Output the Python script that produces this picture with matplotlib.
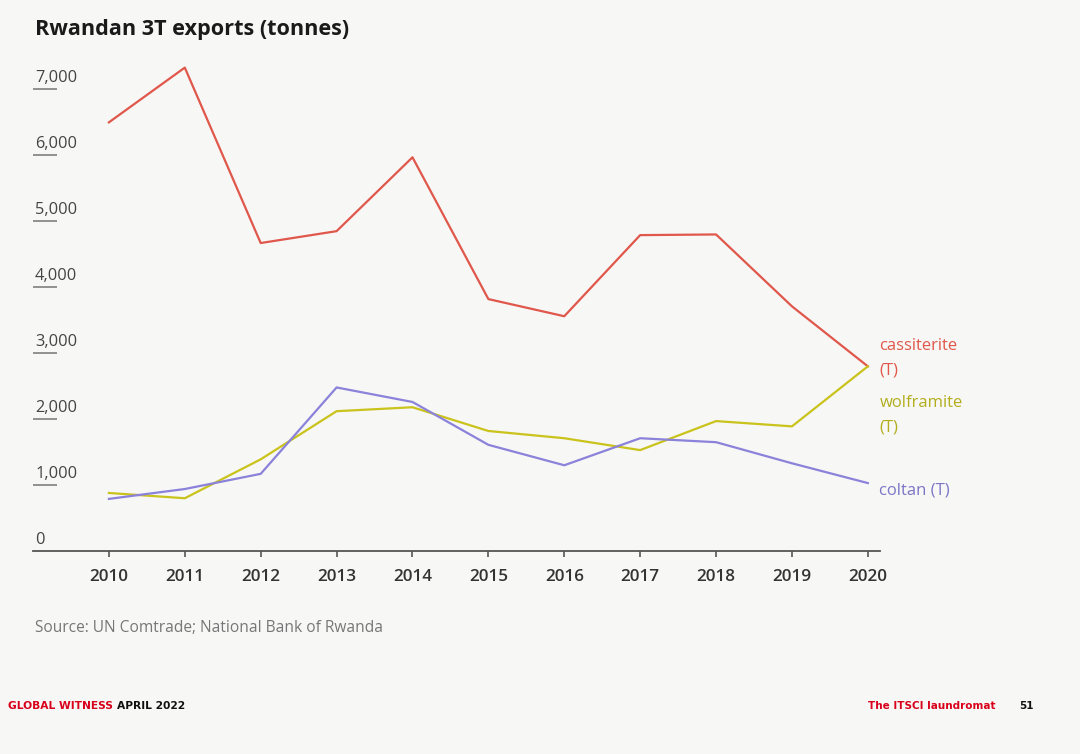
import matplotlib.pyplot as plt
from matplotlib.transforms import offset_copy

years = [2010, 2011, 2012, 2013, 2014, 2015, 2016, 2017, 2018, 2019, 2020]
cassiterite = [6500, 7330, 4670, 4850, 5970, 3820, 3560, 4790, 4800, 3710, 2800]
wolframite = [880, 800, 1390, 2120, 2180, 1820, 1710, 1530, 1970, 1890, 2800]
coltan = [790, 940, 1170, 2480, 2260, 1610, 1300, 1710, 1650, 1330, 1030]

y_ticks = [0, 1000, 2000, 3000, 4000, 5000, 6000, 7000]
y_labels = ['0', '1,000', '2,000', '3,000', '4,000', '5,000', '6,000', '7,000']

BG = '#f7f7f6'
RED = '#e0574b'
YELLOW = '#c9c31c'
BLUE = '#8b82da'

plt.rcParams['font.family'] = ['Open Sans', 'DejaVu Sans']

fig = plt.figure(figsize=(10.8, 7.54), dpi=100, facecolor=BG)
ax = fig.add_axes([33 / 1080, 1 - 551 / 754, (880 - 33) / 1080, (551 - 63) / 754])
ax.set_facecolor(BG)

ax.plot(years, cassiterite, color=RED, lw=1.6)
ax.plot(years, wolframite, color=YELLOW, lw=1.6)
ax.plot(years, coltan, color=BLUE, lw=1.6)

ax.set_xlim(2009.0, 2020.16)
ax.set_ylim(0, 7400)

for s in ['top', 'right', 'left']:
    ax.spines[s].set_visible(False)
ax.spines['bottom'].set_color('#555555')
ax.spines['bottom'].set_linewidth(1.3)

ax.set_xticks(years)
ax.set_xticklabels([str(y) for y in years], fontsize=12.3, color='#333333',
                   fontweight='semibold')
ax.tick_params(axis='x', length=4, width=1.2, color='#555555', pad=9)

# short underlines on the left, labels sit above them
ax.set_yticks(y_ticks[1:])
ax.set_yticklabels([])
ax.tick_params(axis='y', direction='in', length=17, width=1.2, color='#808080')
ytrans = offset_copy(ax.get_yaxis_transform(), fig=fig, x=1.5, y=2.5, units='points')
for v, lab in zip(y_ticks, y_labels):
    ax.text(0.0, v, lab, transform=ytrans, ha='left', va='bottom',
            fontsize=11.8, color='#444444')

# series end labels
lbl_trans = offset_copy(ax.transData, fig=fig, x=-0.5, y=0, units='points')
ax.text(2020.16, 2917, 'cassiterite\n(T)', color=RED, fontsize=12, va='center',
        ha='left', linespacing=1.7, transform=lbl_trans)
ax.text(2020.16, 2060, 'wolframite\n(T)', color='#b3ae1e', fontsize=12, va='center',
        ha='left', linespacing=1.7, transform=lbl_trans)
ax.text(2020.16, 924, 'coltan (T)', color='#7d76c6', fontsize=12, va='center',
        ha='left', transform=lbl_trans)

fig.text(35 / 1080, 1 - 30 / 754, 'Rwandan 3T exports (tonnes)', fontsize=15.6,
         fontweight='bold', color='#1a1a1a', va='center', ha='left')
fig.text(35 / 1080, 1 - 628 / 754, 'Source: UN Comtrade; National Bank of Rwanda',
         fontsize=11.2, color='#777777', va='center', ha='left')

footer = ['Liberation Sans Narrow', 'DejaVu Sans']
t = fig.text(8 / 1080, 1 - 706 / 754, 'GLOBAL WITNESS ', fontsize=7.7, fontweight='bold',
             color='#d9001b', va='center', ha='left', family=footer)
fig.canvas.draw()
bb = t.get_window_extent()
fig.text(bb.x1 / 1080, 1 - 706 / 754, 'APRIL 2022', fontsize=7.7, fontweight='bold',
         color='#111111', va='center', ha='left', family=footer)
fig.text(995 / 1080, 1 - 706 / 754, 'The ITSCI laundromat', fontsize=7.5, fontweight='bold',
         color='#d9001b', va='center', ha='right', family=footer)
fig.text(1019 / 1080, 1 - 706 / 754, '51', fontsize=7.5, fontweight='bold',
         color='#111111', va='center', ha='left', family=footer)

fig.savefig('out.png', dpi=100, facecolor=BG)
